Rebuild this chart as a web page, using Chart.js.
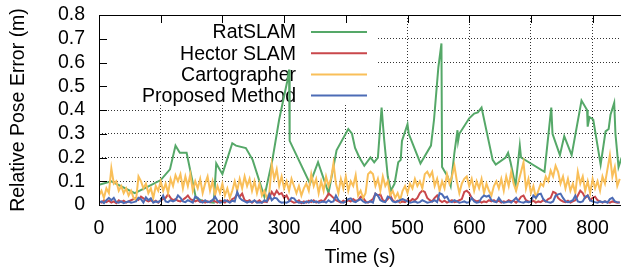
<!DOCTYPE html>
<html><head><meta charset="utf-8">
<script src="https://cdn.jsdelivr.net/npm/chart.js@4.4.1/dist/chart.umd.min.js"></script>
<style>html,body{margin:0;padding:0;background:#fff;overflow:hidden}</style>
</head><body>
<canvas id="c" width="621" height="269"></canvas>
<script>
const seriesNames = ['RatSLAM', 'Hector SLAM', 'Cartographer', 'Proposed Method'];

const ratslamTime = [0, 20, 58, 85, 100, 115, 124, 131, 142, 157, 170, 186, 190, 200, 216, 222, 238, 249, 268, 281, 292, 305, 308, 309, 342, 355, 372, 385, 404, 410, 415, 422, 430, 440, 446, 452, 458, 462, 468, 473, 479, 485, 489, 491, 500, 502, 521, 538, 543, 550, 555, 556, 565, 570, 576, 581, 582, 584, 600, 608, 614, 620, 638, 643, 659, 663, 667, 675, 682, 684, 722, 733, 735, 747, 754, 766, 782, 791, 792, 795, 801, 813, 821, 826, 829, 835, 837, 842, 847];
const ratslamError = [0.085, 0.1, 0.05, 0.085, 0.105, 0.15, 0.25, 0.22, 0.22, 0.03, 0.015, 0.01, 0.175, 0.13, 0.26, 0.25, 0.24, 0.19, 0.035, 0.19, 0.36, 0.52, 0.57, 0.27, 0.09, 0.18, 0.05, 0.23, 0.32, 0.3, 0.24, 0.2, 0.165, 0.2, 0.18, 0.2, 0.41, 0.28, 0.12, 0.06, 0.09, 0.18, 0.19, 0.27, 0.34, 0.3, 0.175, 0.25, 0.36, 0.58, 0.68, 0.16, 0.12, 0.08, 0.22, 0.315, 0.27, 0.3, 0.365, 0.385, 0.39, 0.41, 0.19, 0.17, 0.2, 0.22, 0.18, 0.08, 0.25, 0.2, 0.14, 0.41, 0.3, 0.21, 0.29, 0.21, 0.44, 0.4, 0.33, 0.37, 0.36, 0.17, 0.31, 0.32, 0.38, 0.43, 0.3, 0.16, 0.2];

// dense series: one sample every sampleStep seconds starting at 0 s
const sampleStep = 4;
const hectorError = [
0.015,0.01,0.02,0.012,0.018, 0.01,0.015,0.008,0.02,0.012, 0.018,0.01,0.015,0.02,0.025, 0.03,0.022,0.035,0.028,0.02,
0.015,0.02,0.012,0.018,0.01, 0.02,0.025,0.03,0.045,0.03, 0.02,0.025,0.018,0.015,0.022, 0.03,0.04,0.025,0.02,0.015,
0.02,0.012,0.018,0.01,0.015, 0.012,0.02,0.015,0.01,0.018, 0.015,0.01,0.02,0.012,0.025, 0.03,0.045,0.035,0.048,0.02,
0.015,0.02,0.01,0.018,0.012, 0.02,0.01,0.015,0.012,0.03, 0.055,0.04,0.06,0.045,0.05, 0.03,0.04,0.02,0.015,0.01,
0.012,0.02,0.008,0.015,0.01, 0.018,0.012,0.02,0.01,0.015, 0.02,0.015,0.03,0.048,0.04, 0.03,0.02,0.015,0.01,0.018,
0.012,0.02,0.015,0.025,0.018, 0.02,0.035,0.03,0.015,0.01, 0.018,0.025,0.048,0.04,0.045, 0.02,0.015,0.025,0.04,0.02,
0.012,0.018,0.01,0.015,0.012, 0.02,0.015,0.025,0.02,0.03, 0.05,0.06,0.055,0.03,0.02, 0.015,0.03,0.04,0.02,0.012,
0.018,0.01,0.015,0.02,0.012, 0.015,0.02,0.025,0.055,0.06, 0.05,0.03,0.02,0.015,0.018, 0.01,0.015,0.012,0.02,0.015,
0.02,0.012,0.018,0.01,0.015, 0.012,0.02,0.015,0.018,0.01, 0.02,0.035,0.04,0.02,0.015, 0.012,0.018,0.01,0.015,0.012,
0.02,0.015,0.025,0.03,0.055, 0.05,0.03,0.02,0.015,0.012, 0.018,0.01,0.015,0.02,0.04, 0.06,0.05,0.03,0.04,0.02,
0.03,0.035,0.02,0.015,0.01, 0.015,0.012,0.01,0.015,0.012, 0.01,0.012];
const cartographerError = [
0.04,0.06,0.03,0.07,0.05, 0.155,0.09,0.1,0.06,0.08, 0.05,0.07,0.04,0.06,0.03, 0.02,0.12,0.1,0.07,0.09,
0.05,0.07,0.03,0.08,0.06, 0.1,0.06,0.09,0.05,0.11, 0.08,0.125,0.1,0.13,0.07, 0.12,0.08,0.13,0.06,0.1,
0.07,0.11,0.05,0.09,0.12, 0.06,0.1,0.04,0.08,0.05, 0.09,0.04,0.07,0.03,0.06, 0.1,0.06,0.11,0.07,0.12,
0.08,0.11,0.06,0.1,0.05, 0.09,0.04,0.06,0.03,0.05, 0.17,0.11,0.15,0.08,0.12, 0.07,0.1,0.06,0.11,0.08,
0.05,0.08,0.04,0.07,0.09, 0.06,0.13,0.08,0.11,0.05, 0.1,0.06,0.12,0.08,0.11, 0.175,0.09,0.05,0.11,0.07,
0.12,0.06,0.1,0.08,0.125, 0.04,0.06,0.03,0.05,0.13, 0.14,0.13,0.08,0.11,0.06, 0.12,0.08,0.1,0.04,0.06,
0.03,0.05,0.02,0.06,0.08, 0.05,0.09,0.07,0.11,0.08, 0.1,0.07,0.13,0.14,0.12, 0.14,0.08,0.11,0.06,0.1,
0.07,0.13,0.09,0.12,0.165, 0.1,0.05,0.09,0.11,0.12, 0.08,0.11,0.06,0.1,0.07, 0.11,0.05,0.09,0.06,0.04,
0.08,0.1,0.07,0.11,0.06, 0.12,0.08,0.14,0.09,0.06, 0.1,0.14,0.18,0.07,0.11, 0.05,0.08,0.03,0.06,0.09,
0.08,0.12,0.1,0.145,0.12, 0.165,0.14,0.09,0.12,0.07, 0.11,0.06,0.09,0.05,0.14, 0.09,0.12,0.06,0.1,0.05,
0.11,0.07,0.1,0.06,0.12, 0.09,0.15,0.21,0.12,0.16, 0.08,0.11];
const proposedError = [
0.01,0.015,0.008,0.02,0.03, 0.02,0.03,0.012,0.01,0.015, 0.008,0.012,0.015,0.01,0.012, 0.015,0.03,0.025,0.01,0.032,
0.02,0.028,0.01,0.015,0.012, 0.02,0.04,0.015,0.012,0.02, 0.015,0.02,0.04,0.03,0.015, 0.012,0.02,0.015,0.01,0.035,
0.03,0.015,0.01,0.02,0.012, 0.015,0.02,0.035,0.018,0.01, 0.012,0.02,0.015,0.01,0.018, 0.015,0.055,0.03,0.02,0.015,
0.01,0.015,0.012,0.02,0.01, 0.012,0.01,0.02,0.015,0.045, 0.02,0.03,0.028,0.015,0.01, 0.012,0.01,0.015,0.03,0.028,
0.015,0.01,0.012,0.008,0.015, 0.01,0.02,0.012,0.015,0.01, 0.012,0.015,0.01,0.02,0.012, 0.015,0.04,0.02,0.012,0.01,
0.015,0.025,0.028,0.015,0.012, 0.02,0.025,0.015,0.01,0.012, 0.015,0.01,0.048,0.04,0.02, 0.015,0.012,0.035,0.03,0.015,
0.012,0.015,0.02,0.025,0.02, 0.015,0.01,0.012,0.015,0.01, 0.012,0.02,0.015,0.01,0.012, 0.015,0.02,0.012,0.05,0.045,
0.03,0.035,0.015,0.012,0.02, 0.015,0.01,0.012,0.015,0.01, 0.012,0.03,0.015,0.01,0.012, 0.03,0.04,0.035,0.04,0.02,
0.015,0.012,0.03,0.015,0.01, 0.012,0.015,0.01,0.02,0.03, 0.015,0.012,0.01,0.015,0.012, 0.015,0.04,0.03,0.045,0.048,
0.025,0.015,0.012,0.01,0.015, 0.04,0.045,0.048,0.03,0.015, 0.012,0.015,0.02,0.04,0.015, 0.012,0.015,0.035,0.04,0.02,
0.015,0.012,0.01,0.015,0.012, 0.015,0.01,0.025,0.03,0.015, 0.012,0.01];

const xTickLabels = ['0', '100', '200', '300', '400', '500', '600', '700', '800'];
const yTickLabels = ['0', '0.1', '0.2', '0.3', '0.4', '0.5', '0.6', '0.7', '0.8'];

const COLORS = ['#55A868', '#C9474B', '#F9BF59', '#4C6CB6'];
const FAMILY = '"Liberation Sans", Arial, Helvetica, sans-serif';
const FSIZE = 19.5;

const toPoints = arr => arr.map((v, i) => ({ x: i * sampleStep, y: v }));

const framePlugin = {
  id: 'gnuplotFrame',
  beforeDatasetsDraw(chart) {
    const { ctx, chartArea: a } = chart;
    ctx.save();
    ctx.fillStyle = '#fff';
    ctx.fillRect(a.left + 1, a.top + 1, 277, 89);
    ctx.font = FSIZE + 'px ' + FAMILY;
    ctx.textAlign = 'right';
    ctx.textBaseline = 'middle';
    chart.data.datasets.forEach((ds, i) => {
      const y = a.top + 17 + i * 21.2;
      ctx.fillStyle = '#000';
      ctx.fillText(ds.label, a.left + 197, y + 1);
      ctx.strokeStyle = ds.borderColor;
      ctx.lineWidth = 2;
      ctx.beginPath();
      ctx.moveTo(a.left + 212, y);
      ctx.lineTo(a.left + 268, y);
      ctx.stroke();
    });
    ctx.restore();
  },
  afterDatasetsDraw(chart) {
    const { ctx, chartArea: a, scales } = chart;
    ctx.save();
    ctx.strokeStyle = '#000';
    ctx.lineWidth = 1;
    ctx.beginPath();
    ctx.moveTo(chart.width, a.top + 0.5);
    ctx.lineTo(a.left + 0.5, a.top + 0.5);
    ctx.lineTo(a.left + 0.5, a.bottom + 0.5);
    ctx.lineTo(chart.width, a.bottom + 0.5);
    scales.y.ticks.forEach(t => {
      const p = Math.round(scales.y.getPixelForValue(t.value)) + 0.5;
      ctx.moveTo(a.left, p); ctx.lineTo(a.left + 8, p);
    });
    scales.x.ticks.forEach(t => {
      const p = Math.round(scales.x.getPixelForValue(t.value)) + 0.5;
      ctx.moveTo(p, a.top); ctx.lineTo(p, a.top + 8);
      ctx.moveTo(p, a.bottom); ctx.lineTo(p, a.bottom - 8);
    });
    ctx.stroke();
    ctx.restore();
  }
};

const font = { family: FAMILY, size: FSIZE };

new Chart(document.getElementById('c'), {
  type: 'line',
  data: {
    datasets: [
      { label: seriesNames[0], data: ratslamTime.map((t, i) => ({ x: t, y: ratslamError[i] })), borderColor: COLORS[0], order: 4 },
      { label: seriesNames[1], data: toPoints(hectorError), borderColor: COLORS[1], order: 3 },
      { label: seriesNames[2], data: toPoints(cartographerError), borderColor: COLORS[2], order: 2 },
      { label: seriesNames[3], data: toPoints(proposedError), borderColor: COLORS[3], order: 1 }
    ]
  },
  options: {
    responsive: false,
    animation: false,
    devicePixelRatio: 1,
    layout: { padding: { top: 15, left: 0, right: 0, bottom: 0 } },
    plugins: { legend: { display: false }, tooltip: { enabled: false } },
    elements: { point: { radius: 0 }, line: { borderWidth: 2, tension: 0 } },
    scales: {
      x: {
        type: 'linear', min: 0, max: 846,
        afterFit(s) { s.height = 64; },
        ticks: { stepSize: 100, includeBounds: false, autoSkip: false, maxRotation: 0, padding: 12, color: '#000', font,
                 callback: (v, i) => xTickLabels[i] },
        grid: { color: '#333', lineWidth: 1, drawTicks: false },
        border: { display: false, dash: [1, 2] },
        title: { display: true, text: 'Time (s)', color: '#000', font, padding: { top: 0, bottom: 0 } }
      },
      y: {
        type: 'linear', min: 0, max: 0.8,
        afterFit(s) { s.width = 99; },
        ticks: { stepSize: 0.1, autoSkip: false, padding: 0, color: '#000', font, callback: (v, i) => yTickLabels[i] },
        grid: { color: '#333', lineWidth: 1, drawTicks: true, tickLength: 14, tickColor: 'rgba(0,0,0,0)' },
        border: { display: false, dash: [1, 2] },
        title: { display: true, text: 'Relative Pose Error (m)', color: '#000', font, padding: { top: 7, bottom: 0 } }
      }
    }
  },
  plugins: [framePlugin]
});
</script>
</body></html>
